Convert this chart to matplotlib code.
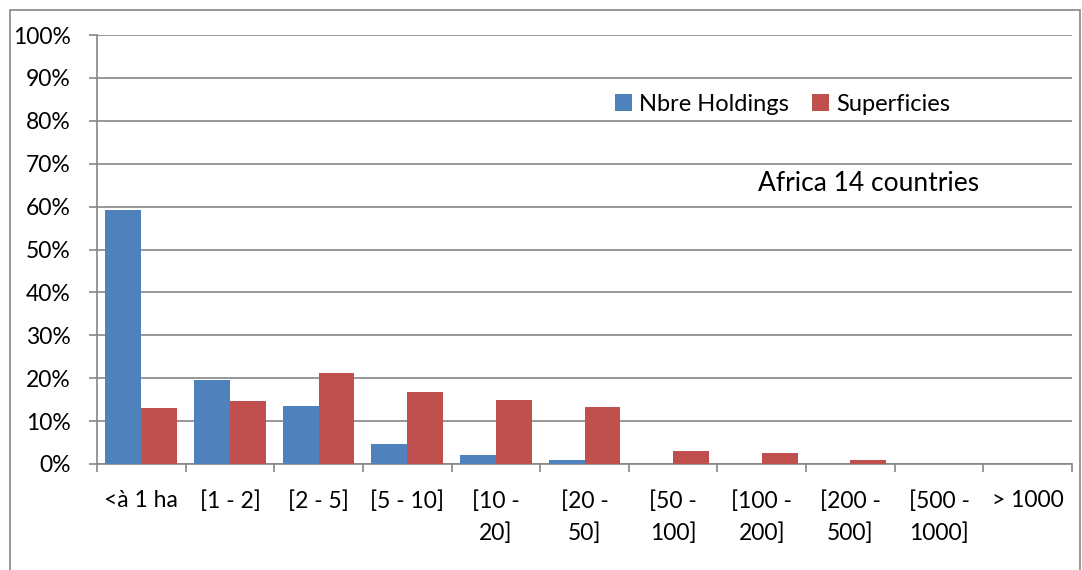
import numpy as np
import matplotlib.pyplot as plt
from matplotlib.patches import Rectangle
from matplotlib.ticker import FuncFormatter, FixedLocator

plt.rcParams['font.family'] = ['Lato', 'DejaVu Sans']

# Size classes and shares (%)
categories = ['<à 1 ha', '[1 - 2]', '[2 - 5]', '[5 - 10]', '[10 -\n20]', '[20 -\n50]',
              '[50 -\n100]', '[100 -\n200]', '[200 -\n500]', '[500 -\n1000]', '> 1000']
holdings = [59.2, 19.6, 13.6, 4.6, 2.1, 0.85, 0.1, 0.05, 0.02, 0.0, 0.0]
superficies = [13.0, 14.6, 21.2, 16.7, 15.0, 13.3, 3.0, 2.5, 0.9, 0.1, 0.05]

grey = '#868686'
fig = plt.figure(figsize=(10.82, 5.70), dpi=100)
ax = fig.add_axes([97 / 1082, 1 - 464 / 570, 975 / 1082, 429 / 570])

x = np.arange(len(categories))
w = 0.405
ax.bar(x - w / 2, holdings, w, color='#4F81BD', label='Nbre Holdings', zorder=3)
ax.bar(x + w / 2, superficies, w, color='#C0504D', label='Superficies', zorder=3)

ax.set_xlim(-0.5, len(categories) - 0.5)
ax.set_ylim(0, 100)
ax.set_yticks(np.arange(0, 101, 10))
ax.yaxis.set_major_formatter(FuncFormatter(lambda v, p: '%d%%' % v))
ax.grid(axis='y', color=grey, linewidth=1.2, zorder=0)

ax.set_xticks(x)
ax.set_xticklabels(categories, linespacing=1.6)
ax.xaxis.set_minor_locator(FixedLocator(np.arange(-0.5, len(categories), 1)))
ax.tick_params(axis='x', which='major', length=0, pad=19, labelsize=16.5)
ax.tick_params(axis='x', which='minor', length=6, width=1.2, color=grey)
ax.tick_params(axis='y', length=6, width=1.2, color=grey, pad=13, labelsize=16.5)

for s in ['top', 'right']:
    ax.spines[s].set_visible(False)
for s in ['left', 'bottom']:
    ax.spines[s].set_color(grey)
    ax.spines[s].set_linewidth(1.2)

ax.legend(loc='upper left', bbox_to_anchor=(0.522, 0.885), ncol=2, frameon=False,
          fontsize=17, handlelength=0.7, handleheight=0.7, handletextpad=0.3,
          columnspacing=1.0, borderaxespad=0)
ax.text(0.905, 0.655, 'Africa 14 countries', transform=ax.transAxes, fontsize=19,
        ha='right', va='center')

# outer chart border
fig.patches.append(Rectangle((10 / 1082, -5 / 570), 1070 / 1082, 565 / 570,
                             transform=fig.transFigure, fill=False,
                             edgecolor=grey, linewidth=1.2))

fig.savefig('out.png', dpi=100)
